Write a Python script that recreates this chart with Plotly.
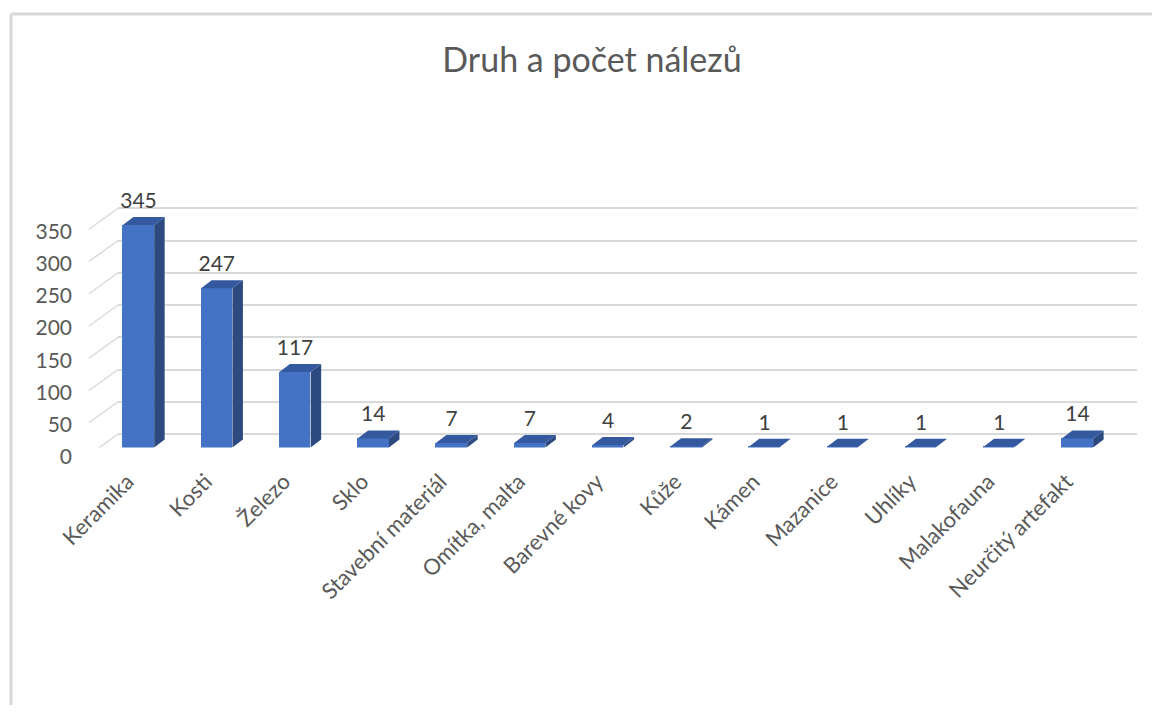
import plotly.graph_objects as go

# ---- data ----
categories = ["Keramika", "Kosti", "Železo", "Sklo", "Stavební materiál", "Omítka, malta",
              "Barevné kovy", "Kůže", "Kámen", "Mazanice", "Uhlíky", "Malakofauna",
              "Neurčitý artefakt"]
values = [345, 247, 117, 14, 7, 7, 4, 2, 1, 1, 1, 1, 14]
y_ticks = [0, 50, 100, 150, 200, 250, 300, 350]
title_text = "Druh a počet nálezů"

# ---- layout constants (pixels, in page coordinates) ----
OFF = 8                       # default body margin of the html page
W, H = 1160 - 2 * OFF, 713 - 2 * OFF
px_per_unit = 0.645
bar_base_px = 447.5 - OFF
plot_top_px = 190 - OFF
grid_offset_px = 13.5          # back wall is higher than bar base
depth_dx_px, depth_dy_px = 10.5, 8
label_gap_px = 4
bar_w = 0.4
x_left_px, x_right_px = 99.4 - OFF, 1116.6 - OFF
grid_left_px, grid_right_px = 118 - OFF, 1137 - OFF
stub_left_px = 89 - OFF

FRONT = "#4472C4"
SIDE = "#2C4A80"
TOP = "#34599E"
GRID = "#D9D9D9"
TXT = "#595959"
FONT = "Lato"

span_units = (bar_base_px - plot_top_px) / px_per_unit
grid_shift = grid_offset_px / px_per_unit
px_per_cat = (x_right_px - x_left_px) / len(categories)
dxu = depth_dx_px / px_per_cat
dyu = depth_dy_px / px_per_unit
gapu = label_gap_px / px_per_unit

ydom = [1 - bar_base_px / H, 1 - plot_top_px / H]

fig = go.Figure()

# invisible trace on grid subplot
fig.add_trace(go.Scatter(x=[0], y=[0], xaxis="x", yaxis="y", mode="markers",
                         marker=dict(opacity=0), hoverinfo="skip", showlegend=False))

xs = list(range(len(categories)))

# front faces
fig.add_trace(go.Bar(x=xs, y=values, width=bar_w, marker=dict(color=FRONT, line=dict(width=0)),
                     xaxis="x2", yaxis="y2", showlegend=False))

# side faces & top faces
for i, v in enumerate(values):
    xr = i + bar_w / 2
    xl = i - bar_w / 2
    fig.add_trace(go.Scatter(
        x=[xr, xr + dxu, xr + dxu, xr, xr], y=[0, dyu, v + dyu, v, 0],
        fill="toself", fillcolor=SIDE, mode="lines", line=dict(width=0, color=SIDE),
        xaxis="x2", yaxis="y2", showlegend=False, hoverinfo="skip"))
    fig.add_trace(go.Scatter(
        x=[xl, xr, xr + dxu, xl + dxu, xl], y=[v, v, v + dyu, v + dyu, v],
        fill="toself", fillcolor=TOP, mode="lines", line=dict(width=0, color=TOP),
        xaxis="x2", yaxis="y2", showlegend=False, hoverinfo="skip"))

# data labels
fig.add_trace(go.Scatter(
    x=xs, y=[v + dyu + gapu for v in values], mode="text", text=[str(v) for v in values],
    textposition="top center", textfont=dict(family=FONT, size=21, color="#404040"),
    xaxis="x2", yaxis="y2", showlegend=False, hoverinfo="skip", cliponaxis=False))

shapes = []
# chart border (top and left edges)
bx = (11 - OFF) / W
by = 1 - (14 - OFF) / H
shapes.append(dict(type="line", xref="paper", yref="paper", x0=bx, x1=1.02, y0=by, y1=by,
                   line=dict(color=GRID, width=3), layer="below"))
shapes.append(dict(type="line", xref="paper", yref="paper", x0=bx, x1=bx, y0=-0.05, y1=by,
                   line=dict(color=GRID, width=3), layer="below"))
# diagonal stubs from front plane to back wall
for t in y_ticks:
    shapes.append(dict(type="line", xref="paper", yref="y", ysizemode="pixel", yanchor=t,
                       x0=stub_left_px / W, x1=grid_left_px / W, y0=-21, y1=0,
                       line=dict(color=GRID, width=1.5), layer="below"))

fig.update_layout(
    width=W, height=H, autosize=False,
    margin=dict(l=0, r=0, t=0, b=0, pad=0, autoexpand=False),
    paper_bgcolor="white", plot_bgcolor="rgba(0,0,0,0)",
    showlegend=False,
    title=dict(text=title_text, x=(592 - OFF) / W, xanchor="center",
               y=1 - (60 - OFF) / H, yanchor="middle",
               xref="paper", yref="paper", automargin=False,
               font=dict(family=FONT, size=34, color=TXT)),
    font=dict(family=FONT, color=TXT),
    xaxis=dict(domain=[grid_left_px / W, grid_right_px / W], range=[0, 1], visible=False,
               anchor="y", automargin=False),
    yaxis=dict(domain=ydom, range=[-grid_shift, span_units - grid_shift], anchor="x",
               tickvals=y_ticks, showgrid=True, gridcolor=GRID, gridwidth=1.5,
               zeroline=False, showline=False, ticks="", automargin=False,
               ticklabelstandoff=45, ticklabelshift=23,
               tickfont=dict(family=FONT, size=21, color=TXT)),
    xaxis2=dict(domain=[x_left_px / W, x_right_px / W], range=[-0.5, 12.5], anchor="y2",
                tickvals=xs, ticktext=categories, tickangle=-45, showgrid=False,
                zeroline=False, showline=False, ticks="", ticklabelstandoff=16,
                ticklabelshift=-11, automargin=False,
                tickfont=dict(family=FONT, size=22, color=TXT)),
    yaxis2=dict(domain=ydom, range=[0, span_units], anchor="x2", visible=False,
                automargin=False),
    shapes=shapes,
    bargap=0,
)

fig.write_html("out.html")
